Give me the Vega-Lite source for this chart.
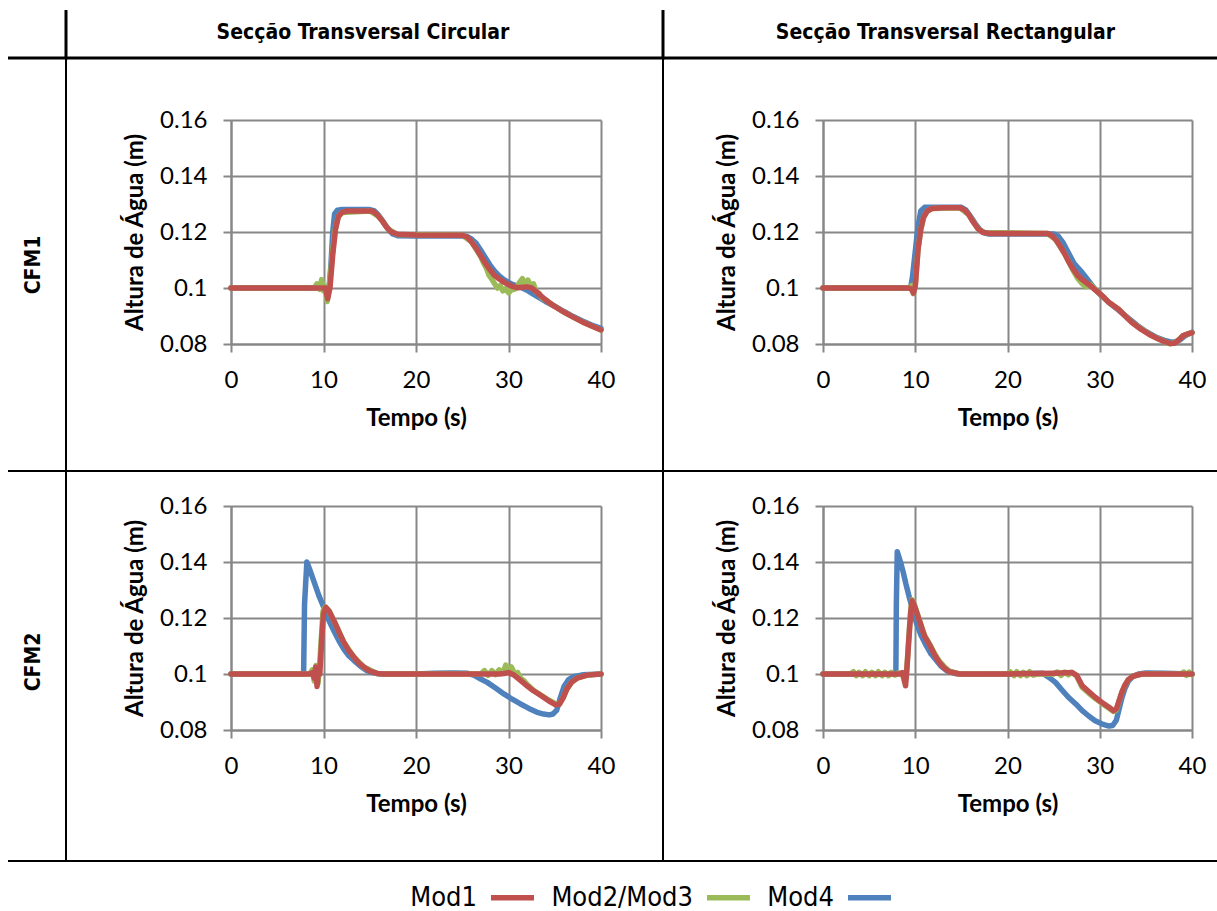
{
"$schema":"https://vega.github.io/schema/vega-lite/v6.json",
"background":"white",
"padding":{"left":6,"top":8,"right":0,"bottom":0},
"data":{"values":[{"k":0}]},
"datasets":{
"c1":[
{"t":0,"h":0.1,"s":"Mod4"},{"t":10.6,"h":0.1,"s":"Mod4"},{"t":10.8,"h":0.108,"s":"Mod4"},{"t":11.0,"h":0.12,"s":"Mod4"},{"t":11.2,"h":0.1265,"s":"Mod4"},{"t":11.5,"h":0.1278,"s":"Mod4"},{"t":12,"h":0.128,"s":"Mod4"},{"t":15,"h":0.128,"s":"Mod4"},{"t":15.5,"h":0.1275,"s":"Mod4"},{"t":16,"h":0.1258,"s":"Mod4"},{"t":16.5,"h":0.1235,"s":"Mod4"},{"t":17,"h":0.121,"s":"Mod4"},{"t":17.5,"h":0.1193,"s":"Mod4"},{"t":18,"h":0.1187,"s":"Mod4"},{"t":20,"h":0.1186,"s":"Mod4"},{"t":25,"h":0.1186,"s":"Mod4"},{"t":25.5,"h":0.1184,"s":"Mod4"},{"t":26,"h":0.1175,"s":"Mod4"},{"t":26.5,"h":0.116,"s":"Mod4"},{"t":27,"h":0.1135,"s":"Mod4"},{"t":27.5,"h":0.1108,"s":"Mod4"},{"t":28,"h":0.1082,"s":"Mod4"},{"t":28.5,"h":0.106,"s":"Mod4"},{"t":29,"h":0.1043,"s":"Mod4"},{"t":29.5,"h":0.103,"s":"Mod4"},{"t":30,"h":0.102,"s":"Mod4"},{"t":30.5,"h":0.1012,"s":"Mod4"},{"t":31,"h":0.1006,"s":"Mod4"},{"t":31.5,"h":0.1,"s":"Mod4"},{"t":32,"h":0.0992,"s":"Mod4"},{"t":32.5,"h":0.0982,"s":"Mod4"},{"t":33,"h":0.0972,"s":"Mod4"},{"t":34,"h":0.0952,"s":"Mod4"},{"t":35,"h":0.0935,"s":"Mod4"},{"t":36,"h":0.0916,"s":"Mod4"},{"t":37,"h":0.0898,"s":"Mod4"},{"t":38,"h":0.0882,"s":"Mod4"},{"t":39,"h":0.0868,"s":"Mod4"},{"t":40,"h":0.0856,"s":"Mod4"},
{"t":0,"h":0.1,"s":"Mod2/Mod3"},{"t":9.0,"h":0.1,"s":"Mod2/Mod3"},{"t":9.3,"h":0.1015,"s":"Mod2/Mod3"},{"t":9.6,"h":0.0995,"s":"Mod2/Mod3"},{"t":9.8,"h":0.103,"s":"Mod2/Mod3"},{"t":10.0,"h":0.099,"s":"Mod2/Mod3"},{"t":10.2,"h":0.1005,"s":"Mod2/Mod3"},{"t":10.4,"h":0.0952,"s":"Mod2/Mod3"},{"t":10.6,"h":0.1,"s":"Mod2/Mod3"},{"t":10.9,"h":0.11,"s":"Mod2/Mod3"},{"t":11.2,"h":0.12,"s":"Mod2/Mod3"},{"t":11.6,"h":0.1255,"s":"Mod2/Mod3"},{"t":12,"h":0.127,"s":"Mod2/Mod3"},{"t":15,"h":0.1275,"s":"Mod2/Mod3"},{"t":16,"h":0.1255,"s":"Mod2/Mod3"},{"t":17,"h":0.121,"s":"Mod2/Mod3"},{"t":18,"h":0.1191,"s":"Mod2/Mod3"},{"t":25,"h":0.1188,"s":"Mod2/Mod3"},{"t":26,"h":0.1165,"s":"Mod2/Mod3"},{"t":27,"h":0.1112,"s":"Mod2/Mod3"},{"t":27.3,"h":0.109,"s":"Mod2/Mod3"},{"t":27.6,"h":0.1072,"s":"Mod2/Mod3"},{"t":27.9,"h":0.1045,"s":"Mod2/Mod3"},{"t":28.2,"h":0.1032,"s":"Mod2/Mod3"},{"t":28.5,"h":0.1015,"s":"Mod2/Mod3"},{"t":28.8,"h":0.1,"s":"Mod2/Mod3"},{"t":29.1,"h":0.1008,"s":"Mod2/Mod3"},{"t":29.4,"h":0.099,"s":"Mod2/Mod3"},{"t":29.7,"h":0.0998,"s":"Mod2/Mod3"},{"t":30,"h":0.0983,"s":"Mod2/Mod3"},{"t":30.3,"h":0.0993,"s":"Mod2/Mod3"},{"t":30.6,"h":0.0995,"s":"Mod2/Mod3"},{"t":30.9,"h":0.1002,"s":"Mod2/Mod3"},{"t":31.2,"h":0.102,"s":"Mod2/Mod3"},{"t":31.5,"h":0.1033,"s":"Mod2/Mod3"},{"t":31.8,"h":0.1012,"s":"Mod2/Mod3"},{"t":32.1,"h":0.1028,"s":"Mod2/Mod3"},{"t":32.4,"h":0.1008,"s":"Mod2/Mod3"},{"t":32.7,"h":0.1015,"s":"Mod2/Mod3"},{"t":33,"h":0.0985,"s":"Mod2/Mod3"},{"t":33.3,"h":0.0982,"s":"Mod2/Mod3"},{"t":33.6,"h":0.0965,"s":"Mod2/Mod3"},{"t":34,"h":0.0958,"s":"Mod2/Mod3"},{"t":35,"h":0.0934,"s":"Mod2/Mod3"},{"t":36,"h":0.0914,"s":"Mod2/Mod3"},{"t":37,"h":0.0896,"s":"Mod2/Mod3"},{"t":38,"h":0.0879,"s":"Mod2/Mod3"},{"t":39,"h":0.0864,"s":"Mod2/Mod3"},{"t":40,"h":0.085,"s":"Mod2/Mod3"},
{"t":0,"h":0.1,"s":"Mod1"},{"t":10.2,"h":0.1,"s":"Mod1"},{"t":10.45,"h":0.0962,"s":"Mod1"},{"t":10.7,"h":0.1,"s":"Mod1"},{"t":11.0,"h":0.112,"s":"Mod1"},{"t":11.3,"h":0.121,"s":"Mod1"},{"t":11.6,"h":0.1255,"s":"Mod1"},{"t":12,"h":0.127,"s":"Mod1"},{"t":12.6,"h":0.1275,"s":"Mod1"},{"t":15.3,"h":0.1275,"s":"Mod1"},{"t":15.8,"h":0.1262,"s":"Mod1"},{"t":16.3,"h":0.1242,"s":"Mod1"},{"t":16.8,"h":0.1218,"s":"Mod1"},{"t":17.3,"h":0.1201,"s":"Mod1"},{"t":18,"h":0.1192,"s":"Mod1"},{"t":20,"h":0.1189,"s":"Mod1"},{"t":25,"h":0.1188,"s":"Mod1"},{"t":25.5,"h":0.1183,"s":"Mod1"},{"t":26,"h":0.1165,"s":"Mod1"},{"t":26.5,"h":0.1142,"s":"Mod1"},{"t":27,"h":0.1115,"s":"Mod1"},{"t":27.5,"h":0.1088,"s":"Mod1"},{"t":28,"h":0.1065,"s":"Mod1"},{"t":28.5,"h":0.1045,"s":"Mod1"},{"t":29,"h":0.1032,"s":"Mod1"},{"t":29.5,"h":0.1021,"s":"Mod1"},{"t":30,"h":0.1012,"s":"Mod1"},{"t":30.5,"h":0.1005,"s":"Mod1"},{"t":31,"h":0.1001,"s":"Mod1"},{"t":31.5,"h":0.1003,"s":"Mod1"},{"t":32,"h":0.1004,"s":"Mod1"},{"t":32.5,"h":0.1,"s":"Mod1"},{"t":33,"h":0.0987,"s":"Mod1"},{"t":33.5,"h":0.0972,"s":"Mod1"},{"t":34,"h":0.0958,"s":"Mod1"},{"t":34.5,"h":0.0945,"s":"Mod1"},{"t":35,"h":0.0934,"s":"Mod1"},{"t":36,"h":0.0914,"s":"Mod1"},{"t":37,"h":0.0896,"s":"Mod1"},{"t":38,"h":0.0879,"s":"Mod1"},{"t":39,"h":0.0864,"s":"Mod1"},{"t":40,"h":0.085,"s":"Mod1"}
],
"c2":[
{"t":0,"h":0.1,"s":"Mod4"},{"t":9.5,"h":0.1,"s":"Mod4"},{"t":9.7,"h":0.104,"s":"Mod4"},{"t":10.0,"h":0.113,"s":"Mod4"},{"t":10.3,"h":0.122,"s":"Mod4"},{"t":10.6,"h":0.1275,"s":"Mod4"},{"t":11,"h":0.1288,"s":"Mod4"},{"t":15,"h":0.1288,"s":"Mod4"},{"t":15.5,"h":0.1278,"s":"Mod4"},{"t":16,"h":0.1255,"s":"Mod4"},{"t":16.5,"h":0.123,"s":"Mod4"},{"t":17,"h":0.1208,"s":"Mod4"},{"t":17.5,"h":0.1196,"s":"Mod4"},{"t":18,"h":0.1193,"s":"Mod4"},{"t":25,"h":0.1193,"s":"Mod4"},{"t":25.5,"h":0.1185,"s":"Mod4"},{"t":26,"h":0.1163,"s":"Mod4"},{"t":26.6,"h":0.1126,"s":"Mod4"},{"t":27.2,"h":0.1088,"s":"Mod4"},{"t":28.1,"h":0.1055,"s":"Mod4"},{"t":28.8,"h":0.1025,"s":"Mod4"},{"t":29.5,"h":0.0995,"s":"Mod4"},{"t":30.2,"h":0.0972,"s":"Mod4"},{"t":31,"h":0.0948,"s":"Mod4"},{"t":32,"h":0.0922,"s":"Mod4"},{"t":33,"h":0.0895,"s":"Mod4"},{"t":34,"h":0.0868,"s":"Mod4"},{"t":35,"h":0.0845,"s":"Mod4"},{"t":36,"h":0.0826,"s":"Mod4"},{"t":37,"h":0.0813,"s":"Mod4"},{"t":37.6,"h":0.0808,"s":"Mod4"},{"t":38.2,"h":0.0807,"s":"Mod4"},{"t":38.7,"h":0.0815,"s":"Mod4"},{"t":39.2,"h":0.0828,"s":"Mod4"},{"t":40,"h":0.0842,"s":"Mod4"},
{"t":0,"h":0.1,"s":"Mod2/Mod3"},{"t":9.3,"h":0.1,"s":"Mod2/Mod3"},{"t":9.6,"h":0.1008,"s":"Mod2/Mod3"},{"t":9.8,"h":0.098,"s":"Mod2/Mod3"},{"t":10.0,"h":0.101,"s":"Mod2/Mod3"},{"t":10.3,"h":0.1138,"s":"Mod2/Mod3"},{"t":10.6,"h":0.121,"s":"Mod2/Mod3"},{"t":10.9,"h":0.1252,"s":"Mod2/Mod3"},{"t":11.3,"h":0.1275,"s":"Mod2/Mod3"},{"t":11.8,"h":0.1284,"s":"Mod2/Mod3"},{"t":14.8,"h":0.1287,"s":"Mod2/Mod3"},{"t":15.8,"h":0.1262,"s":"Mod2/Mod3"},{"t":16.8,"h":0.1212,"s":"Mod2/Mod3"},{"t":17.5,"h":0.1198,"s":"Mod2/Mod3"},{"t":24.3,"h":0.1195,"s":"Mod2/Mod3"},{"t":25.2,"h":0.1174,"s":"Mod2/Mod3"},{"t":26.2,"h":0.1122,"s":"Mod2/Mod3"},{"t":27.1,"h":0.1064,"s":"Mod2/Mod3"},{"t":27.6,"h":0.1035,"s":"Mod2/Mod3"},{"t":28.1,"h":0.1015,"s":"Mod2/Mod3"},{"t":28.5,"h":0.1005,"s":"Mod2/Mod3"},{"t":29,"h":0.1012,"s":"Mod2/Mod3"},{"t":29.4,"h":0.1,"s":"Mod2/Mod3"},{"t":29.8,"h":0.0985,"s":"Mod2/Mod3"},{"t":30.5,"h":0.0965,"s":"Mod2/Mod3"},{"t":31,"h":0.0948,"s":"Mod2/Mod3"},{"t":32,"h":0.0925,"s":"Mod2/Mod3"},{"t":33.5,"h":0.0877,"s":"Mod2/Mod3"},{"t":35.5,"h":0.0832,"s":"Mod2/Mod3"},{"t":37,"h":0.0809,"s":"Mod2/Mod3"},{"t":37.6,"h":0.0801,"s":"Mod2/Mod3"},{"t":38.1,"h":0.0804,"s":"Mod2/Mod3"},{"t":38.6,"h":0.0816,"s":"Mod2/Mod3"},{"t":39,"h":0.0829,"s":"Mod2/Mod3"},{"t":40,"h":0.0841,"s":"Mod2/Mod3"},
{"t":0,"h":0.1,"s":"Mod1"},{"t":9.3,"h":0.1,"s":"Mod1"},{"t":9.6,"h":0.0995,"s":"Mod1"},{"t":9.8,"h":0.0982,"s":"Mod1"},{"t":10.0,"h":0.1005,"s":"Mod1"},{"t":10.3,"h":0.1138,"s":"Mod1"},{"t":10.6,"h":0.121,"s":"Mod1"},{"t":10.9,"h":0.1252,"s":"Mod1"},{"t":11.3,"h":0.1275,"s":"Mod1"},{"t":11.8,"h":0.1284,"s":"Mod1"},{"t":13,"h":0.1287,"s":"Mod1"},{"t":14.8,"h":0.1287,"s":"Mod1"},{"t":15.3,"h":0.128,"s":"Mod1"},{"t":15.8,"h":0.1262,"s":"Mod1"},{"t":16.3,"h":0.1235,"s":"Mod1"},{"t":16.8,"h":0.1212,"s":"Mod1"},{"t":17.3,"h":0.1199,"s":"Mod1"},{"t":18,"h":0.1195,"s":"Mod1"},{"t":20,"h":0.1195,"s":"Mod1"},{"t":24.3,"h":0.1195,"s":"Mod1"},{"t":24.8,"h":0.1188,"s":"Mod1"},{"t":25.2,"h":0.1174,"s":"Mod1"},{"t":25.7,"h":0.115,"s":"Mod1"},{"t":26.2,"h":0.1122,"s":"Mod1"},{"t":26.6,"h":0.1096,"s":"Mod1"},{"t":27.1,"h":0.1068,"s":"Mod1"},{"t":27.6,"h":0.1045,"s":"Mod1"},{"t":28.1,"h":0.103,"s":"Mod1"},{"t":28.6,"h":0.1018,"s":"Mod1"},{"t":29,"h":0.1008,"s":"Mod1"},{"t":29.5,"h":0.0993,"s":"Mod1"},{"t":30,"h":0.098,"s":"Mod1"},{"t":30.5,"h":0.0965,"s":"Mod1"},{"t":31,"h":0.0948,"s":"Mod1"},{"t":32,"h":0.0925,"s":"Mod1"},{"t":32.7,"h":0.0902,"s":"Mod1"},{"t":33.5,"h":0.0877,"s":"Mod1"},{"t":34.5,"h":0.0852,"s":"Mod1"},{"t":35.5,"h":0.0832,"s":"Mod1"},{"t":36.3,"h":0.0819,"s":"Mod1"},{"t":37,"h":0.0809,"s":"Mod1"},{"t":37.6,"h":0.0802,"s":"Mod1"},{"t":38.1,"h":0.0803,"s":"Mod1"},{"t":38.6,"h":0.0815,"s":"Mod1"},{"t":39,"h":0.0829,"s":"Mod1"},{"t":39.5,"h":0.0836,"s":"Mod1"},{"t":40,"h":0.084,"s":"Mod1"}
],
"c3":[
{"t":0,"h":0.1,"s":"Mod4"},{"t":7.85,"h":0.1,"s":"Mod4"},{"t":7.95,"h":0.125,"s":"Mod4"},{"t":8.2,"h":0.14,"s":"Mod4"},{"t":8.6,"h":0.1365,"s":"Mod4"},{"t":9,"h":0.1327,"s":"Mod4"},{"t":9.5,"h":0.128,"s":"Mod4"},{"t":10.1,"h":0.1232,"s":"Mod4"},{"t":10.6,"h":0.119,"s":"Mod4"},{"t":11.2,"h":0.1149,"s":"Mod4"},{"t":11.7,"h":0.1117,"s":"Mod4"},{"t":12.2,"h":0.1089,"s":"Mod4"},{"t":12.7,"h":0.1066,"s":"Mod4"},{"t":13.3,"h":0.1048,"s":"Mod4"},{"t":14,"h":0.1028,"s":"Mod4"},{"t":14.7,"h":0.1012,"s":"Mod4"},{"t":15.4,"h":0.1004,"s":"Mod4"},{"t":16.2,"h":0.1,"s":"Mod4"},{"t":20,"h":0.1,"s":"Mod4"},{"t":22,"h":0.1003,"s":"Mod4"},{"t":24,"h":0.1004,"s":"Mod4"},{"t":25.5,"h":0.1003,"s":"Mod4"},{"t":26.3,"h":0.0995,"s":"Mod4"},{"t":27,"h":0.0982,"s":"Mod4"},{"t":27.7,"h":0.097,"s":"Mod4"},{"t":28.6,"h":0.095,"s":"Mod4"},{"t":29.5,"h":0.0929,"s":"Mod4"},{"t":30.4,"h":0.091,"s":"Mod4"},{"t":31.3,"h":0.0893,"s":"Mod4"},{"t":32.2,"h":0.0877,"s":"Mod4"},{"t":33.1,"h":0.0863,"s":"Mod4"},{"t":33.8,"h":0.0857,"s":"Mod4"},{"t":34.4,"h":0.0854,"s":"Mod4"},{"t":34.8,"h":0.0857,"s":"Mod4"},{"t":35.2,"h":0.087,"s":"Mod4"},{"t":35.6,"h":0.0915,"s":"Mod4"},{"t":36,"h":0.0955,"s":"Mod4"},{"t":36.5,"h":0.098,"s":"Mod4"},{"t":37,"h":0.099,"s":"Mod4"},{"t":38,"h":0.0997,"s":"Mod4"},{"t":40,"h":0.1,"s":"Mod4"},
{"t":0,"h":0.1,"s":"Mod2/Mod3"},{"t":8.5,"h":0.1,"s":"Mod2/Mod3"},{"t":8.8,"h":0.1015,"s":"Mod2/Mod3"},{"t":9.0,"h":0.0975,"s":"Mod2/Mod3"},{"t":9.2,"h":0.103,"s":"Mod2/Mod3"},{"t":9.4,"h":0.0965,"s":"Mod2/Mod3"},{"t":9.6,"h":0.104,"s":"Mod2/Mod3"},{"t":9.75,"h":0.112,"s":"Mod2/Mod3"},{"t":9.95,"h":0.1225,"s":"Mod2/Mod3"},{"t":10.2,"h":0.124,"s":"Mod2/Mod3"},{"t":10.6,"h":0.1225,"s":"Mod2/Mod3"},{"t":11.2,"h":0.1185,"s":"Mod2/Mod3"},{"t":12.2,"h":0.1113,"s":"Mod2/Mod3"},{"t":13.3,"h":0.106,"s":"Mod2/Mod3"},{"t":14.4,"h":0.1024,"s":"Mod2/Mod3"},{"t":15.8,"h":0.1002,"s":"Mod2/Mod3"},{"t":16.5,"h":0.1,"s":"Mod2/Mod3"},{"t":27,"h":0.1,"s":"Mod2/Mod3"},{"t":27.4,"h":0.1012,"s":"Mod2/Mod3"},{"t":27.8,"h":0.0995,"s":"Mod2/Mod3"},{"t":28.2,"h":0.1012,"s":"Mod2/Mod3"},{"t":28.6,"h":0.0998,"s":"Mod2/Mod3"},{"t":29,"h":0.1015,"s":"Mod2/Mod3"},{"t":29.4,"h":0.1003,"s":"Mod2/Mod3"},{"t":29.7,"h":0.1032,"s":"Mod2/Mod3"},{"t":30,"h":0.1008,"s":"Mod2/Mod3"},{"t":30.3,"h":0.1025,"s":"Mod2/Mod3"},{"t":30.7,"h":0.0998,"s":"Mod2/Mod3"},{"t":31,"h":0.1005,"s":"Mod2/Mod3"},{"t":31.3,"h":0.0985,"s":"Mod2/Mod3"},{"t":31.7,"h":0.0975,"s":"Mod2/Mod3"},{"t":32,"h":0.0963,"s":"Mod2/Mod3"},{"t":32.7,"h":0.0942,"s":"Mod2/Mod3"},{"t":33.5,"h":0.0925,"s":"Mod2/Mod3"},{"t":34.3,"h":0.0908,"s":"Mod2/Mod3"},{"t":35.1,"h":0.0893,"s":"Mod2/Mod3"},{"t":35.5,"h":0.0892,"s":"Mod2/Mod3"},{"t":35.9,"h":0.0915,"s":"Mod2/Mod3"},{"t":36.3,"h":0.0946,"s":"Mod2/Mod3"},{"t":36.8,"h":0.097,"s":"Mod2/Mod3"},{"t":37.4,"h":0.0985,"s":"Mod2/Mod3"},{"t":38.5,"h":0.0996,"s":"Mod2/Mod3"},{"t":40,"h":0.1,"s":"Mod2/Mod3"},
{"t":0,"h":0.1,"s":"Mod1"},{"t":8.5,"h":0.1,"s":"Mod1"},{"t":8.8,"h":0.1005,"s":"Mod1"},{"t":9.0,"h":0.0985,"s":"Mod1"},{"t":9.15,"h":0.1025,"s":"Mod1"},{"t":9.3,"h":0.0955,"s":"Mod1"},{"t":9.45,"h":0.101,"s":"Mod1"},{"t":9.6,"h":0.1,"s":"Mod1"},{"t":9.8,"h":0.112,"s":"Mod1"},{"t":10.0,"h":0.1215,"s":"Mod1"},{"t":10.25,"h":0.1238,"s":"Mod1"},{"t":10.6,"h":0.1225,"s":"Mod1"},{"t":11.2,"h":0.1185,"s":"Mod1"},{"t":11.7,"h":0.1148,"s":"Mod1"},{"t":12.2,"h":0.1113,"s":"Mod1"},{"t":12.7,"h":0.1085,"s":"Mod1"},{"t":13.3,"h":0.106,"s":"Mod1"},{"t":13.8,"h":0.104,"s":"Mod1"},{"t":14.4,"h":0.1024,"s":"Mod1"},{"t":15.1,"h":0.1009,"s":"Mod1"},{"t":15.8,"h":0.1002,"s":"Mod1"},{"t":16.5,"h":0.1,"s":"Mod1"},{"t":29,"h":0.1,"s":"Mod1"},{"t":29.5,"h":0.1002,"s":"Mod1"},{"t":30,"h":0.1005,"s":"Mod1"},{"t":30.6,"h":0.0996,"s":"Mod1"},{"t":31.3,"h":0.0977,"s":"Mod1"},{"t":32,"h":0.0958,"s":"Mod1"},{"t":32.7,"h":0.094,"s":"Mod1"},{"t":33.5,"h":0.0923,"s":"Mod1"},{"t":34.3,"h":0.0905,"s":"Mod1"},{"t":35.1,"h":0.089,"s":"Mod1"},{"t":35.5,"h":0.0892,"s":"Mod1"},{"t":35.9,"h":0.0915,"s":"Mod1"},{"t":36.3,"h":0.0946,"s":"Mod1"},{"t":36.8,"h":0.097,"s":"Mod1"},{"t":37.4,"h":0.0985,"s":"Mod1"},{"t":38.5,"h":0.0996,"s":"Mod1"},{"t":40,"h":0.1,"s":"Mod1"}
],
"c4":[
{"t":0,"h":0.1,"s":"Mod4"},{"t":7.9,"h":0.1,"s":"Mod4"},{"t":7.95,"h":0.125,"s":"Mod4"},{"t":8.05,"h":0.1437,"s":"Mod4"},{"t":8.4,"h":0.14,"s":"Mod4"},{"t":8.7,"h":0.1363,"s":"Mod4"},{"t":9.0,"h":0.132,"s":"Mod4"},{"t":9.4,"h":0.1268,"s":"Mod4"},{"t":9.8,"h":0.1222,"s":"Mod4"},{"t":10.1,"h":0.1185,"s":"Mod4"},{"t":10.6,"h":0.114,"s":"Mod4"},{"t":11.2,"h":0.1101,"s":"Mod4"},{"t":11.7,"h":0.1072,"s":"Mod4"},{"t":12.3,"h":0.1048,"s":"Mod4"},{"t":12.8,"h":0.1028,"s":"Mod4"},{"t":13.4,"h":0.1012,"s":"Mod4"},{"t":14.4,"h":0.1001,"s":"Mod4"},{"t":16,"h":0.0999,"s":"Mod4"},{"t":20,"h":0.1,"s":"Mod4"},{"t":23.8,"h":0.1003,"s":"Mod4"},{"t":24.5,"h":0.0988,"s":"Mod4"},{"t":25.2,"h":0.097,"s":"Mod4"},{"t":25.9,"h":0.0943,"s":"Mod4"},{"t":26.6,"h":0.0917,"s":"Mod4"},{"t":27.4,"h":0.0893,"s":"Mod4"},{"t":28.1,"h":0.0869,"s":"Mod4"},{"t":28.8,"h":0.085,"s":"Mod4"},{"t":29.5,"h":0.0833,"s":"Mod4"},{"t":30.2,"h":0.0822,"s":"Mod4"},{"t":31,"h":0.0814,"s":"Mod4"},{"t":31.4,"h":0.0816,"s":"Mod4"},{"t":31.8,"h":0.0835,"s":"Mod4"},{"t":32.1,"h":0.0875,"s":"Mod4"},{"t":32.4,"h":0.0915,"s":"Mod4"},{"t":32.7,"h":0.0946,"s":"Mod4"},{"t":33.1,"h":0.0975,"s":"Mod4"},{"t":33.6,"h":0.0992,"s":"Mod4"},{"t":34.2,"h":0.1,"s":"Mod4"},{"t":35,"h":0.1004,"s":"Mod4"},{"t":37,"h":0.1003,"s":"Mod4"},{"t":40,"h":0.1,"s":"Mod4"},
{"t":0,"h":0.1,"s":"Mod2/Mod3"},{"t":3,"h":0.1,"s":"Mod2/Mod3"},{"t":3.3,"h":0.1008,"s":"Mod2/Mod3"},{"t":3.6,"h":0.0994,"s":"Mod2/Mod3"},{"t":3.9,"h":0.1006,"s":"Mod2/Mod3"},{"t":4.3,"h":0.0994,"s":"Mod2/Mod3"},{"t":4.6,"h":0.1008,"s":"Mod2/Mod3"},{"t":5,"h":0.0994,"s":"Mod2/Mod3"},{"t":5.3,"h":0.1006,"s":"Mod2/Mod3"},{"t":5.7,"h":0.0994,"s":"Mod2/Mod3"},{"t":6,"h":0.1008,"s":"Mod2/Mod3"},{"t":6.4,"h":0.0994,"s":"Mod2/Mod3"},{"t":6.7,"h":0.1006,"s":"Mod2/Mod3"},{"t":7.1,"h":0.0994,"s":"Mod2/Mod3"},{"t":7.4,"h":0.1006,"s":"Mod2/Mod3"},{"t":7.8,"h":0.0996,"s":"Mod2/Mod3"},{"t":8.2,"h":0.1004,"s":"Mod2/Mod3"},{"t":8.6,"h":0.1,"s":"Mod2/Mod3"},{"t":8.85,"h":0.097,"s":"Mod2/Mod3"},{"t":9.0,"h":0.0985,"s":"Mod2/Mod3"},{"t":9.15,"h":0.105,"s":"Mod2/Mod3"},{"t":9.3,"h":0.113,"s":"Mod2/Mod3"},{"t":9.5,"h":0.1225,"s":"Mod2/Mod3"},{"t":9.65,"h":0.1265,"s":"Mod2/Mod3"},{"t":9.9,"h":0.1248,"s":"Mod2/Mod3"},{"t":10.5,"h":0.1188,"s":"Mod2/Mod3"},{"t":11.0,"h":0.1138,"s":"Mod2/Mod3"},{"t":11.6,"h":0.1104,"s":"Mod2/Mod3"},{"t":12.1,"h":0.1072,"s":"Mod2/Mod3"},{"t":12.6,"h":0.1046,"s":"Mod2/Mod3"},{"t":13.1,"h":0.1028,"s":"Mod2/Mod3"},{"t":13.7,"h":0.101,"s":"Mod2/Mod3"},{"t":14.8,"h":0.1,"s":"Mod2/Mod3"},{"t":20,"h":0.1,"s":"Mod2/Mod3"},{"t":20.3,"h":0.1008,"s":"Mod2/Mod3"},{"t":20.7,"h":0.0994,"s":"Mod2/Mod3"},{"t":21,"h":0.1008,"s":"Mod2/Mod3"},{"t":21.4,"h":0.0994,"s":"Mod2/Mod3"},{"t":21.7,"h":0.1006,"s":"Mod2/Mod3"},{"t":22.1,"h":0.0994,"s":"Mod2/Mod3"},{"t":22.4,"h":0.1008,"s":"Mod2/Mod3"},{"t":22.8,"h":0.0996,"s":"Mod2/Mod3"},{"t":23.2,"h":0.1,"s":"Mod2/Mod3"},{"t":25,"h":0.1,"s":"Mod2/Mod3"},{"t":25.4,"h":0.1007,"s":"Mod2/Mod3"},{"t":25.8,"h":0.0995,"s":"Mod2/Mod3"},{"t":26.2,"h":0.1007,"s":"Mod2/Mod3"},{"t":26.6,"h":0.0997,"s":"Mod2/Mod3"},{"t":27,"h":0.1006,"s":"Mod2/Mod3"},{"t":27.5,"h":0.0993,"s":"Mod2/Mod3"},{"t":28.1,"h":0.0952,"s":"Mod2/Mod3"},{"t":28.8,"h":0.0932,"s":"Mod2/Mod3"},{"t":29.5,"h":0.0913,"s":"Mod2/Mod3"},{"t":30.2,"h":0.0896,"s":"Mod2/Mod3"},{"t":31,"h":0.0878,"s":"Mod2/Mod3"},{"t":31.5,"h":0.0866,"s":"Mod2/Mod3"},{"t":31.8,"h":0.0872,"s":"Mod2/Mod3"},{"t":32.1,"h":0.0903,"s":"Mod2/Mod3"},{"t":32.4,"h":0.0935,"s":"Mod2/Mod3"},{"t":32.7,"h":0.0958,"s":"Mod2/Mod3"},{"t":33.1,"h":0.098,"s":"Mod2/Mod3"},{"t":33.6,"h":0.0992,"s":"Mod2/Mod3"},{"t":34.5,"h":0.1,"s":"Mod2/Mod3"},{"t":38.8,"h":0.1,"s":"Mod2/Mod3"},{"t":39.1,"h":0.1007,"s":"Mod2/Mod3"},{"t":39.4,"h":0.0995,"s":"Mod2/Mod3"},{"t":39.7,"h":0.1007,"s":"Mod2/Mod3"},{"t":40,"h":0.0997,"s":"Mod2/Mod3"},
{"t":0,"h":0.1,"s":"Mod1"},{"t":8.3,"h":0.1,"s":"Mod1"},{"t":8.6,"h":0.1005,"s":"Mod1"},{"t":8.8,"h":0.0985,"s":"Mod1"},{"t":8.95,"h":0.0958,"s":"Mod1"},{"t":9.1,"h":0.102,"s":"Mod1"},{"t":9.3,"h":0.112,"s":"Mod1"},{"t":9.5,"h":0.1215,"s":"Mod1"},{"t":9.65,"h":0.1262,"s":"Mod1"},{"t":9.9,"h":0.1245,"s":"Mod1"},{"t":10.5,"h":0.1185,"s":"Mod1"},{"t":11.0,"h":0.1135,"s":"Mod1"},{"t":11.6,"h":0.1101,"s":"Mod1"},{"t":12.1,"h":0.1068,"s":"Mod1"},{"t":12.6,"h":0.1042,"s":"Mod1"},{"t":13.1,"h":0.1022,"s":"Mod1"},{"t":13.7,"h":0.1008,"s":"Mod1"},{"t":14.8,"h":0.1,"s":"Mod1"},{"t":20,"h":0.1,"s":"Mod1"},{"t":25,"h":0.1003,"s":"Mod1"},{"t":27,"h":0.1005,"s":"Mod1"},{"t":27.5,"h":0.0995,"s":"Mod1"},{"t":28.1,"h":0.0958,"s":"Mod1"},{"t":28.8,"h":0.0937,"s":"Mod1"},{"t":29.5,"h":0.0917,"s":"Mod1"},{"t":30.2,"h":0.0899,"s":"Mod1"},{"t":31,"h":0.0881,"s":"Mod1"},{"t":31.5,"h":0.0869,"s":"Mod1"},{"t":31.8,"h":0.0875,"s":"Mod1"},{"t":32.1,"h":0.0905,"s":"Mod1"},{"t":32.4,"h":0.0935,"s":"Mod1"},{"t":32.7,"h":0.0958,"s":"Mod1"},{"t":33.1,"h":0.098,"s":"Mod1"},{"t":33.6,"h":0.0992,"s":"Mod1"},{"t":34.5,"h":0.1,"s":"Mod1"},{"t":40,"h":0.1,"s":"Mod1"}
]
},
"columns":7,
"spacing":0,
"bounds":"flush",
"align":"each",
"concat":[
{"width":58,"height":48,"mark":{"type":"text","text":""},"view":{"stroke":"#000","strokeWidth":3,"strokeDash":[0,58,106,48]}},
{"width":165,"height":48,"mark":{"type":"text","text":""},"view":{"stroke":"#000","strokeWidth":3,"strokeDash":[0,213,165,48]}},
{"width":370,"height":48,"mark":{"type":"text","text":"Secção Transversal Circular","font":"DejaVu Sans Condensed, Liberation Sans, sans-serif","fontSize":21,"fontWeight":"bold","dx":-53,"dy":-1,"color":"#000"},"view":{"stroke":"#000","strokeWidth":3,"strokeDash":[0,418,370,48]}},
{"width":62,"height":48,"mark":{"type":"text","text":""},"view":{"stroke":"#000","strokeWidth":3,"strokeDash":[0,62,110,48]}},
{"width":160,"height":48,"mark":{"type":"text","text":""},"view":{"stroke":"#000","strokeWidth":3,"strokeDash":[0,208,160,48]}},
{"width":369,"height":48,"mark":{"type":"text","text":"Secção Transversal Rectangular","font":"DejaVu Sans Condensed, Liberation Sans, sans-serif","fontSize":21,"fontWeight":"bold","dx":-62,"dy":-1,"color":"#000"},"view":{"stroke":"#000","strokeWidth":3,"strokeDash":[0,417,369,48]}},
{"width":25,"height":48,"mark":{"type":"text","text":""},"view":{"stroke":"#000","strokeWidth":3,"strokeDash":[0,73,25,48]}},

{"width":58,"height":62,"mark":{"type":"text","text":""},"view":{"stroke":"#000","strokeWidth":2,"strokeDash":[0,58,62,120]}},
{"width":165,"height":62,"mark":{"type":"text","text":""}},
{"width":370,"height":62,"mark":{"type":"text","text":""}},
{"width":62,"height":62,"mark":{"type":"text","text":""},"view":{"stroke":"#000","strokeWidth":2,"strokeDash":[0,62,62,124]}},
{"width":160,"height":62,"mark":{"type":"text","text":""}},
{"width":369,"height":62,"mark":{"type":"text","text":""}},
{"width":25,"height":62,"mark":{"type":"text","text":""}},

{"width":58,"height":224,"mark":{"type":"text","text":"CFM1","font":"DejaVu Sans Condensed, Liberation Sans, sans-serif","fontSize":21,"fontWeight":"bold","angle":270,"dx":-33,"dy":-3,"color":"#000"},"view":{"stroke":"#000","strokeWidth":2,"strokeDash":[0,58,224,282]}},
{"width":165,"height":224,"mark":{"type":"text","text":""}},
{"width":370,"height":224,"data":{"name":"c1"},"mark":{"type":"line"},
 "encoding":{"x":{"field":"t","type":"quantitative","scale":{"domain":[0,40],"nice":false},"axis":{"values":[0,10,20,30,40],"title":"Tempo (s)"}},
 "y":{"field":"h","type":"quantitative","scale":{"domain":[0.08,0.16],"nice":false,"zero":false},"axis":{"values":[0.08,0.1,0.12,0.14,0.16],"format":"~g","title":"Altura de Água (m)"}},
 "color":{"field":"s","type":"nominal","scale":{"domain":["Mod1","Mod2/Mod3","Mod4"],"range":["#C0504D","#9BBB59","#4F81BD"]},"legend":{"title":null,"orient":"none","legendX":480,"legendY":863,"direction":"horizontal","symbolType":"stroke","symbolSize":1850,"symbolStrokeWidth":5,"labelFont":"DejaVu Sans Condensed, Liberation Sans, sans-serif","labelFontSize":27,"labelColor":"#000","labelAlign":"right","labelOffset":-60,"columnPadding":14,"labelLimit":0}}}},
{"width":62,"height":224,"mark":{"type":"text","text":""},"view":{"stroke":"#000","strokeWidth":2,"strokeDash":[0,62,224,286]}},
{"width":160,"height":224,"mark":{"type":"text","text":""}},
{"width":369,"height":224,"data":{"name":"c2"},"mark":{"type":"line"},
 "encoding":{"x":{"field":"t","type":"quantitative","scale":{"domain":[0,40],"nice":false},"axis":{"values":[0,10,20,30,40],"title":"Tempo (s)"}},
 "y":{"field":"h","type":"quantitative","scale":{"domain":[0.08,0.16],"nice":false,"zero":false},"axis":{"values":[0.08,0.1,0.12,0.14,0.16],"format":"~g","title":"Altura de Água (m)"}},
 "color":{"field":"s","type":"nominal","scale":{"domain":["Mod1","Mod2/Mod3","Mod4"],"range":["#C0504D","#9BBB59","#4F81BD"]},"legend":{"title":null,"orient":"none","legendX":480,"legendY":863,"direction":"horizontal","symbolType":"stroke","symbolSize":1850,"symbolStrokeWidth":5,"labelFont":"DejaVu Sans Condensed, Liberation Sans, sans-serif","labelFontSize":27,"labelColor":"#000","labelAlign":"right","labelOffset":-60,"columnPadding":14,"labelLimit":0}}}},
{"width":25,"height":224,"mark":{"type":"text","text":""}},

{"width":58,"height":127,"mark":{"type":"text","text":""},"view":{"stroke":"#000","strokeWidth":2,"strokeDash":[0,58,185,127]}},
{"width":165,"height":127,"mark":{"type":"text","text":""},"view":{"stroke":"#000","strokeWidth":2,"strokeDash":[0,292,165,127]}},
{"width":370,"height":127,"mark":{"type":"text","text":""},"view":{"stroke":"#000","strokeWidth":2,"strokeDash":[0,497,370,127]}},
{"width":62,"height":127,"mark":{"type":"text","text":""},"view":{"stroke":"#000","strokeWidth":2,"strokeDash":[0,62,189,127]}},
{"width":160,"height":127,"mark":{"type":"text","text":""},"view":{"stroke":"#000","strokeWidth":2,"strokeDash":[0,287,160,127]}},
{"width":369,"height":127,"mark":{"type":"text","text":""},"view":{"stroke":"#000","strokeWidth":2,"strokeDash":[0,496,369,127]}},
{"width":25,"height":127,"mark":{"type":"text","text":""},"view":{"stroke":"#000","strokeWidth":2,"strokeDash":[0,152,25,127]}},

{"width":58,"height":35,"mark":{"type":"text","text":""},"view":{"stroke":"#000","strokeWidth":2,"strokeDash":[0,58,35,93]}},
{"width":165,"height":35,"mark":{"type":"text","text":""}},
{"width":370,"height":35,"mark":{"type":"text","text":""}},
{"width":62,"height":35,"mark":{"type":"text","text":""},"view":{"stroke":"#000","strokeWidth":2,"strokeDash":[0,62,35,97]}},
{"width":160,"height":35,"mark":{"type":"text","text":""}},
{"width":369,"height":35,"mark":{"type":"text","text":""}},
{"width":25,"height":35,"mark":{"type":"text","text":""}},

{"width":58,"height":224,"mark":{"type":"text","text":"CFM2","font":"DejaVu Sans Condensed, Liberation Sans, sans-serif","fontSize":21,"fontWeight":"bold","angle":270,"dx":-44,"dy":-3,"color":"#000"},"view":{"stroke":"#000","strokeWidth":2,"strokeDash":[0,58,224,282]}},
{"width":165,"height":224,"mark":{"type":"text","text":""}},
{"width":370,"height":224,"data":{"name":"c3"},"mark":{"type":"line"},
 "encoding":{"x":{"field":"t","type":"quantitative","scale":{"domain":[0,40],"nice":false},"axis":{"values":[0,10,20,30,40],"title":"Tempo (s)"}},
 "y":{"field":"h","type":"quantitative","scale":{"domain":[0.08,0.16],"nice":false,"zero":false},"axis":{"values":[0.08,0.1,0.12,0.14,0.16],"format":"~g","title":"Altura de Água (m)"}},
 "color":{"field":"s","type":"nominal","scale":{"domain":["Mod1","Mod2/Mod3","Mod4"],"range":["#C0504D","#9BBB59","#4F81BD"]},"legend":{"title":null,"orient":"none","legendX":480,"legendY":863,"direction":"horizontal","symbolType":"stroke","symbolSize":1850,"symbolStrokeWidth":5,"labelFont":"DejaVu Sans Condensed, Liberation Sans, sans-serif","labelFontSize":27,"labelColor":"#000","labelAlign":"right","labelOffset":-60,"columnPadding":14,"labelLimit":0}}}},
{"width":62,"height":224,"mark":{"type":"text","text":""},"view":{"stroke":"#000","strokeWidth":2,"strokeDash":[0,62,224,286]}},
{"width":160,"height":224,"mark":{"type":"text","text":""}},
{"width":369,"height":224,"data":{"name":"c4"},"mark":{"type":"line"},
 "encoding":{"x":{"field":"t","type":"quantitative","scale":{"domain":[0,40],"nice":false},"axis":{"values":[0,10,20,30,40],"title":"Tempo (s)"}},
 "y":{"field":"h","type":"quantitative","scale":{"domain":[0.08,0.16],"nice":false,"zero":false},"axis":{"values":[0.08,0.1,0.12,0.14,0.16],"format":"~g","title":"Altura de Água (m)"}},
 "color":{"field":"s","type":"nominal","scale":{"domain":["Mod1","Mod2/Mod3","Mod4"],"range":["#C0504D","#9BBB59","#4F81BD"]},"legend":{"title":null,"orient":"none","legendX":480,"legendY":863,"direction":"horizontal","symbolType":"stroke","symbolSize":1850,"symbolStrokeWidth":5,"labelFont":"DejaVu Sans Condensed, Liberation Sans, sans-serif","labelFontSize":27,"labelColor":"#000","labelAlign":"right","labelOffset":-60,"columnPadding":14,"labelLimit":0}}}},
{"width":25,"height":224,"mark":{"type":"text","text":""}},

{"width":58,"height":131,"mark":{"type":"text","text":""},"view":{"stroke":"#000","strokeWidth":2,"strokeDash":[0,58,189,131]}},
{"width":165,"height":131,"mark":{"type":"text","text":""},"view":{"stroke":"#000","strokeWidth":2,"strokeDash":[0,296,165,131]}},
{"width":370,"height":131,"mark":{"type":"text","text":""},"view":{"stroke":"#000","strokeWidth":2,"strokeDash":[0,501,370,131]}},
{"width":62,"height":131,"mark":{"type":"text","text":""},"view":{"stroke":"#000","strokeWidth":2,"strokeDash":[0,62,193,131]}},
{"width":160,"height":131,"mark":{"type":"text","text":""},"view":{"stroke":"#000","strokeWidth":2,"strokeDash":[0,291,160,131]}},
{"width":369,"height":131,"mark":{"type":"text","text":""},"view":{"stroke":"#000","strokeWidth":2,"strokeDash":[0,500,369,131]}},
{"width":25,"height":131,"mark":{"type":"text","text":""},"view":{"stroke":"#000","strokeWidth":2,"strokeDash":[0,156,25,131]}}
],
"config":{
 "view":{"stroke":null},
 "font":"Lato",
 "axis":{"labelFont":"Lato","labelFontSize":24,"labelColor":"#000","titleFont":"Lato","titleFontSize":24,"titleFontWeight":"bold","titleColor":"#000","domainColor":"#878787","domainWidth":2,"tickColor":"#878787","tickWidth":2,"tickSize":8,"gridColor":"#878787","gridWidth":2,"labelFlush":false,"labelOverlap":false,"grid":true},
 "axisX":{"labelPadding":16,"titlePadding":14},
 "axisY":{"labelPadding":16,"titlePadding":12},
 "line":{"strokeWidth":5.5,"strokeCap":"round","strokeJoin":"round"}
}
}
